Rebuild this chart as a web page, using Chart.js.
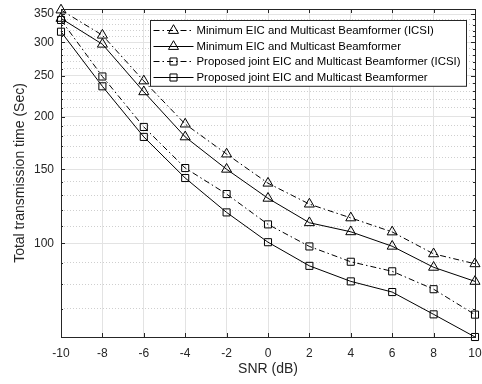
<!DOCTYPE html>
<html>
<head>
<meta charset="utf-8">
<script src="https://cdn.jsdelivr.net/npm/chart.js@4.4.1/dist/chart.umd.min.js"></script>
<style>
  html, body { margin: 0; padding: 0; background: #fff; }
  #wrap { width: 482px; height: 384px; position: relative; }
</style>
</head>
<body>
<div id="wrap"><canvas id="chart"></canvas></div>
<script>
// ===== Data =====
const snrDb = [-10, -8, -6, -4, -2, 0, 2, 4, 6, 8, 10];
const minEicIcsi = [358, 312, 243, 192, 163, 139, 124, 115, 106.5, 94.5, 89.5];
const minEic = [342, 297, 229, 179, 150, 128, 112, 106.6, 98.5, 87.8, 81.3];
const jointEicIcsi = [339, 249, 189, 151, 131, 111, 98.4, 90.5, 85.9, 77.9, 67.8];
const jointEic = [318, 236, 179, 143, 118.5, 100.7, 88.5, 81.3, 76.7, 67.9, 60];

const seriesLabels = [
  'Minimum EIC and Multicast Beamformer (ICSI)',
  'Minimum EIC and Multicast Beamformer',
  'Proposed joint EIC and Multicast Beamformer (ICSI)',
  'Proposed joint EIC and Multicast Beamformer'
];

const yTickValues = [60, 70, 80, 90, 100, 110, 120, 130, 140, 150, 160, 170, 180, 190, 200,
  210, 220, 230, 240, 250, 260, 270, 280, 290, 300, 310, 320, 330, 340, 350, 360];
const yLabelled = [100, 150, 200, 250, 300, 350];

const FONT = "'Liberation Sans', Arial, Helvetica, sans-serif";
const TEXT = '#262626';
const DASHDOT = [6, 3, 1.5, 3];

function makeSet(label, values, dashed, style) {
  return {
    label: label,
    data: snrDb.map((x, i) => ({ x: x, y: values[i] })),
    borderColor: '#000',
    borderWidth: 1,
    borderDash: dashed ? DASHDOT : [],
    pointStyle: style,
    pointRadius: style === 'triangle' ? 5.8 : 5,
    pointBorderColor: '#000',
    pointBackgroundColor: 'rgba(0,0,0,0)',
    pointBorderWidth: 1,
    fill: false,
    tension: 0,
    clip: false
  };
}

const datasets = [
  makeSet(seriesLabels[0], minEicIcsi, true, 'triangle'),
  makeSet(seriesLabels[1], minEic, false, 'triangle'),
  makeSet(seriesLabels[2], jointEicIcsi, true, 'rect'),
  makeSet(seriesLabels[3], jointEic, false, 'rect')
];

// ===== Box + inward ticks, matlab style =====
const boxPlugin = {
  id: 'box',
  afterDatasetsDraw(chart) {
    const { ctx, chartArea: a, scales } = chart;
    ctx.save();
    ctx.strokeStyle = '#262626';
    ctx.lineWidth = 1;
    ctx.beginPath();
    for (const t of scales.x.ticks) {
      const px = Math.round(scales.x.getPixelForValue(t.value)) + 0.5;
      ctx.moveTo(px, a.bottom); ctx.lineTo(px, a.bottom - 4);
      ctx.moveTo(px, a.top); ctx.lineTo(px, a.top + 4);
    }
    for (const t of scales.y.ticks) {
      const py = Math.round(scales.y.getPixelForValue(t.value)) + 0.5;
      const len = yLabelled.includes(t.value) ? 4 : 2;
      ctx.moveTo(a.left, py); ctx.lineTo(a.left + len, py);
      ctx.moveTo(a.right, py); ctx.lineTo(a.right - len, py);
    }
    ctx.stroke();
    ctx.strokeRect(Math.round(a.left) + 0.5, Math.round(a.top) + 0.5,
      Math.round(a.right - a.left), Math.round(a.bottom - a.top));
    ctx.restore();
  }
};

// ===== Legend drawn inside the plot, top right =====
function legendMarker(ctx, style, x, y, r) {
  ctx.fillStyle = 'rgba(0,0,0,0)';
  if (window.Chart && Chart.helpers && Chart.helpers.drawPoint) {
    Chart.helpers.drawPoint(ctx, { pointStyle: style, radius: r, borderWidth: 1, rotation: 0 }, x, y);
    return;
  }
  ctx.beginPath();
  if (style === 'triangle') {
    ctx.moveTo(x, y - r);
    ctx.lineTo(x + r * 0.866, y + r / 2);
    ctx.lineTo(x - r * 0.866, y + r / 2);
    ctx.closePath();
  } else {
    const s = r * Math.SQRT1_2;
    ctx.rect(x - s, y - s, 2 * s, 2 * s);
  }
  ctx.stroke();
}

const legendPlugin = {
  id: 'insideLegend',
  afterDraw(chart) {
    const { ctx, chartArea: a } = chart;
    ctx.save();
    ctx.font = '11.4px ' + FONT;
    let maxW = 0;
    chart.data.datasets.forEach(d => { maxW = Math.max(maxW, ctx.measureText(d.label).width); });
    const right = Math.round(a.right - 9) + 0.5;
    const top = Math.round(a.top + 10.5) + 0.5;
    const left = Math.round(right - (46 + maxW + 6.5)) + 0.5;
    const rowH = 15.7;
    const bottom = top + 9.3 + rowH * 3 + 9.4;

    ctx.fillStyle = '#fff';
    ctx.fillRect(left, top, right - left, bottom - top);
    ctx.strokeStyle = '#262626';
    ctx.lineWidth = 1;
    ctx.strokeRect(left, top, right - left, bottom - top);

    chart.data.datasets.forEach((d, i) => {
      const y = Math.round(top + 9.3 + i * rowH) + 0.5;
      ctx.strokeStyle = '#000';
      ctx.lineWidth = 1;
      ctx.setLineDash(d.borderDash || []);
      ctx.beginPath();
      ctx.moveTo(left + 3, y);
      ctx.lineTo(left + 43, y);
      ctx.stroke();
      ctx.setLineDash([]);
      legendMarker(ctx, d.pointStyle, left + 23, y, d.pointRadius);
      ctx.fillStyle = '#000';
      ctx.textBaseline = 'middle';
      ctx.textAlign = 'left';
      ctx.fillText(d.label, left + 46, y);
    });
    ctx.restore();
  }
};

// drop the label overhang padding chart.js adds around the plot
function noOverhang(s) {
  s.paddingTop = 0;
  s.paddingBottom = 0;
  s.paddingLeft = 0;
  s.paddingRight = 0;
}

new Chart(document.getElementById('chart'), {
  type: 'line',
  data: { datasets: datasets },
  options: {
    responsive: true,
    maintainAspectRatio: false,
    animation: false,
    layout: { padding: { top: 9, right: 7, left: 0, bottom: 0 } },
    plugins: {
      legend: { display: false },
      tooltip: { enabled: false }
    },
    scales: {
      x: {
        type: 'linear',
        min: -10,
        max: 10,
        ticks: { stepSize: 2, font: { family: FONT, size: 12 }, color: TEXT, padding: 9 },
        grid: { color: '#e3e3e3', drawTicks: false },
        border: { display: false },
        title: {
          display: true, text: 'SNR (dB)', color: TEXT,
          font: { family: FONT, size: 14 }, padding: { top: 0, bottom: 6 }
        },
        afterFit: (s) => { s.height = 47; noOverhang(s); }
      },
      y: {
        type: 'logarithmic',
        min: 60,
        max: 360,
        afterBuildTicks: (s) => {
          s.ticks = yTickValues.map(v => ({ value: v, major: yLabelled.includes(v) }));
        },
        ticks: {
          autoSkip: false,
          font: { family: FONT, size: 12 },
          color: TEXT,
          padding: 7,
          callback: (v) => yLabelled.includes(v) ? String(v) : ''
        },
        grid: {
          drawTicks: false,
          color: (c) => (c.tick && yLabelled.includes(c.tick.value)) ? '#e3e3e3' : '#cfcfcf'
        },
        border: {
          display: false,
          dash: (c) => (c.tick && !yLabelled.includes(c.tick.value)) ? [1, 2] : []
        },
        title: {
          display: true, text: 'Total transmission time (Sec)', color: TEXT,
          font: { family: FONT, size: 14 }, padding: { top: 11.5, bottom: 0 }
        },
        afterFit: (s) => { s.width = 61; noOverhang(s); }
      }
    }
  },
  plugins: [boxPlugin, legendPlugin]
});
</script>
</body>
</html>
